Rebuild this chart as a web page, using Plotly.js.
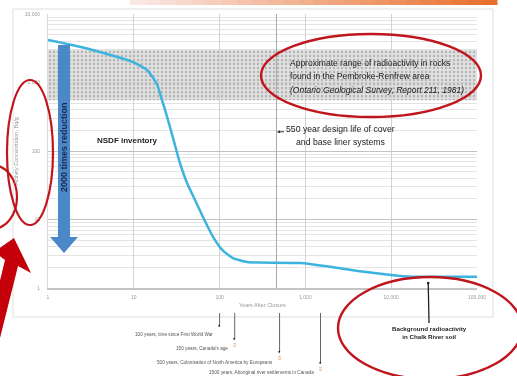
<!DOCTYPE html>
<html>
<head>
<meta charset="utf-8">
<script src="https://cdn.plot.ly/plotly-3.0.1.min.js"></script>
<style>
html,body{margin:0;padding:0;background:#fff;}
#chart{width:517px;height:376px;filter:blur(0.4px);}
</style>
</head>
<body>
<div id="chart"></div>
<script>
// ---- data ----
const years = [1, 1.9, 4, 9.8, 14.3, 18.6, 21.3, 23.7, 26.4, 30.2, 34.5, 41.7, 51.7, 64, 84, 107, 143, 209, 290, 890, 1690, 4100, 9950, 17000, 38000, 100000];
const activity = [4170, 3520, 2790, 1990, 1520, 951, 556, 359, 224, 122, 66.8, 34.1, 19.3, 10.9, 5.56, 3.59, 2.74, 2.4, 2.35, 2.32, 2.09, 1.77, 1.55, 1.46, 1.46, 1.46];
const rockBandLow = 550;
const rockBandHigh = 3000;
const designLifeLine = 460;
const backgroundYear = 27000;
const backgroundLevel = 1.18;
const eventYears = [100, 150, 500, 1500];
const eventLabels = [
  "100 years, time since First World War",
  "150 years, Canada's age",
  "500 years, Colonisation of North America by Europeans",
  "1500 years, Aboriginal river settlements in Canada"
];
const yTickVals = [1, 10, 100, 1000, 10000];
const xTickVals = [1, 10, 100, 1000, 10000, 100000];

// ---- geometry helpers (pixel -> paper) ----
const L = 48, R = 477, T = 14, B = 288;
function px(x){ return (x - L) / (R - L); }
function py(y){ return (B - y) / (B - T); }
function pathOf(pts){ return 'M' + pts.map(p => px(p[0]).toFixed(4) + ',' + py(p[1]).toFixed(4)).join('L') + 'Z'; }

const FONT = 'Liberation Sans, Arial, sans-serif';
const RED = '#c0151d';

const traces = [
  { // grey rock band
    x: [xTickVals[0], xTickVals[xTickVals.length-1], xTickVals[xTickVals.length-1], xTickVals[0], xTickVals[0]],
    y: [rockBandLow, rockBandLow, rockBandHigh, rockBandHigh, rockBandLow],
    type: 'scatter', mode: 'lines', fill: 'toself',
    fillcolor: 'rgba(205,205,205,0.7)',
    fillpattern: {shape: '.', bgcolor: 'rgba(214,214,214,0.75)', fgcolor: '#b4b4b4', size: 4, solidity: 0.3},
    line: {width: 0}, hoverinfo: 'skip', showlegend: false
  },
  { // design life vertical line
    x: [designLifeLine, designLifeLine], y: [yTickVals[0], yTickVals[yTickVals.length-1]],
    type: 'scatter', mode: 'lines', line: {color: '#a8a8a8', width: 1},
    hoverinfo: 'skip', showlegend: false
  },
  { // NSDF inventory curve
    x: years, y: activity, type: 'scatter', mode: 'lines',
    line: {color: '#3cb4de', width: 2.5, shape: 'spline', smoothing: 0.5},
    showlegend: false
  }
];

const shapes = [];
// slide header gradient bar
const nSeg = 24, gx0 = 130, gx1 = 497;
for (let i = 0; i < nSeg; i++) {
  const t = i / (nSeg - 1);
  const r = Math.round(250 + (232 - 250) * t), g = Math.round(232 + (112 - 232) * t), b = Math.round(228 + (44 - 228) * t);
  const xa = gx0 + (gx1 - gx0) * i / nSeg, xb = gx0 + (gx1 - gx0) * (i + 1) / nSeg + 0.5;
  shapes.push({type: 'rect', xref: 'paper', yref: 'paper', x0: px(xa), x1: px(xb), y0: py(5), y1: py(0),
    fillcolor: `rgb(${r},${g},${b})`, line: {width: 0}, layer: 'above'});
}
// chart frame
shapes.push({type: 'rect', xref: 'paper', yref: 'paper', x0: px(13), x1: px(493), y0: py(317), y1: py(9),
  line: {color: '#dedede', width: 1}, layer: 'below'});
// blue arrow
shapes.push({type: 'path', xref: 'paper', yref: 'paper',
  path: pathOf([[58,45],[70,45],[70,237],[78,237],[64,253],[50,237],[58,237]]),
  fillcolor: '#4b88c9', line: {width: 0}, layer: 'above'});
// red ellipses
shapes.push({type: 'circle', xref: 'paper', yref: 'paper', x0: px(7), x1: px(53), y0: py(225), y1: py(80), line: {color: RED, width: 2.2}});
shapes.push({type: 'circle', xref: 'paper', yref: 'paper', x0: px(-32), x1: px(17), y0: py(229), y1: py(165), line: {color: RED, width: 2.2}});
shapes.push({type: 'circle', xref: 'paper', yref: 'paper', x0: px(261), x1: px(481), y0: py(117), y1: py(34), line: {color: RED, width: 2.4}});
shapes.push({type: 'circle', xref: 'paper', yref: 'paper', x0: px(338), x1: px(522), y0: py(379), y1: py(277), line: {color: RED, width: 2.4}});
// red big arrow
shapes.push({type: 'path', xref: 'paper', yref: 'paper',
  path: pathOf([[14,238],[31,273],[18,266],[0,338],[-14,338],[5,260],[-6,252]]),
  fillcolor: '#c4000b', line: {width: 0}, layer: 'above'});
// event marker lines
const dotY = [325, 338, 351, 362];
const textY = [334, 348, 362, 372];
eventYears.forEach((yr, i) => {
  shapes.push({type: 'line', xref: 'x', yref: 'paper', x0: yr, x1: yr, y0: py(313), y1: py(dotY[i]),
    line: {color: '#666', width: 1}});
});

const ann = [];
const A = (o) => ann.push(Object.assign({xref: 'paper', yref: 'paper', showarrow: false, xanchor: 'center', yanchor: 'middle',
  font: {family: FONT, size: 8.5, color: '#222'}}, o));
A({x: px(64), y: py(147), text: '<b>2000 times reduction</b>', textangle: -90, font: {family: FONT, size: 9, color: '#1b2a4e'}});
A({x: px(127), y: py(140), text: '<b>NSDF inventory</b>', font: {family: FONT, size: 8, color: '#222'}});
A({x: px(288), y: py(63), xanchor: 'left', text: 'Approximate range of radioactivity in rocks'});
A({x: px(288), y: py(76), xanchor: 'left', text: 'found in the Pembroke-Renfrew area'});
A({x: px(288), y: py(90), xanchor: 'left', text: '<i>(Ontario Geological Survey, Report 211, 1981)</i>'});
A({x: px(277), y: py(132), text: '550 year design life of cover', showarrow: true, ax: 63, ay: -3,
  arrowhead: 2, arrowsize: 0.6, arrowwidth: 1, arrowcolor: '#333', font: {family: FONT, size: 8.7, color: '#222'}});
A({x: px(341), y: py(142), text: 'and base liner systems', font: {family: FONT, size: 8.7, color: '#222'}});
// background annotation
ann.push({xref: 'x', yref: 'y', x: Math.log10(backgroundYear), y: Math.log10(backgroundLevel),
  text: '<b>Background radioactivity<br>in Chalk River soil</b>', showarrow: true, ax: 1, ay: 49,
  arrowhead: 6, arrowsize: 0.5, arrowwidth: 1.3, arrowcolor: '#222',
  font: {family: FONT, size: 6.2, color: '#222'}});
// event labels
eventYears.forEach((yr, i) => {
  ann.push({xref: 'x', yref: 'paper', x: Math.log10(yr), y: py(textY[i]), xanchor: 'right', yanchor: 'middle', xshift: -5,
    text: eventLabels[i], showarrow: false, font: {family: FONT, size: 4.7, color: '#555'}});
  ann.push({xref: 'x', yref: 'paper', x: Math.log10(yr), y: py(dotY[i]), xanchor: 'center', yanchor: 'middle', text: '●', showarrow: false,
    font: {family: FONT, size: 4.5, color: '#222'}});
  if (i > 0) ann.push({xref: 'x', yref: 'paper', x: Math.log10(yr), y: py(dotY[i] + 7), xanchor: 'center', yanchor: 'middle', text: '≡', showarrow: false,
    font: {family: FONT, size: 6, color: '#e69a5c'}});
});

const layout = {
  width: 517, height: 376,
  margin: {l: L, r: 517 - R, t: T, b: 376 - B},
  paper_bgcolor: '#fff', plot_bgcolor: '#fff',
  font: {family: FONT},
  xaxis: {
    type: 'log', range: [0, 5], dtick: 1, tickformat: ',', tickvals: xTickVals,
    showgrid: true, gridcolor: '#d2d2d2', gridwidth: 1,
    zeroline: false, showline: true, linecolor: '#c4c4c4', linewidth: 1.5,
    ticks: '', tickfont: {size: 5, color: '#9a9a9a'}, ticklabelstandoff: 3,
    title: {text: 'Years After Closure', font: {size: 5.5, color: '#9a9a9a'}, standoff: 4},
    fixedrange: true
  },
  yaxis: {
    type: 'log', range: [0, 4], dtick: 1, tickformat: ',',
    showgrid: true, gridcolor: '#c2c2c2', gridwidth: 1,
    minor: {dtick: 'D1', showgrid: true, gridcolor: '#e4e4e4', gridwidth: 1, ticks: ''},
    zeroline: false, showline: true, linecolor: '#dadada', linewidth: 1,
    ticks: '', tickfont: {size: 5, color: '#9a9a9a'}, ticklabelstandoff: 6,
    title: {text: 'Activity Concentration, Bq/g', font: {size: 5.5, color: '#9a9a9a'}, standoff: 5},
    fixedrange: true
  },
  shapes: shapes,
  annotations: ann,
  showlegend: false
};

Plotly.newPlot('chart', traces, layout, {displayModeBar: false, staticPlot: true});
</script>
</body>
</html>
